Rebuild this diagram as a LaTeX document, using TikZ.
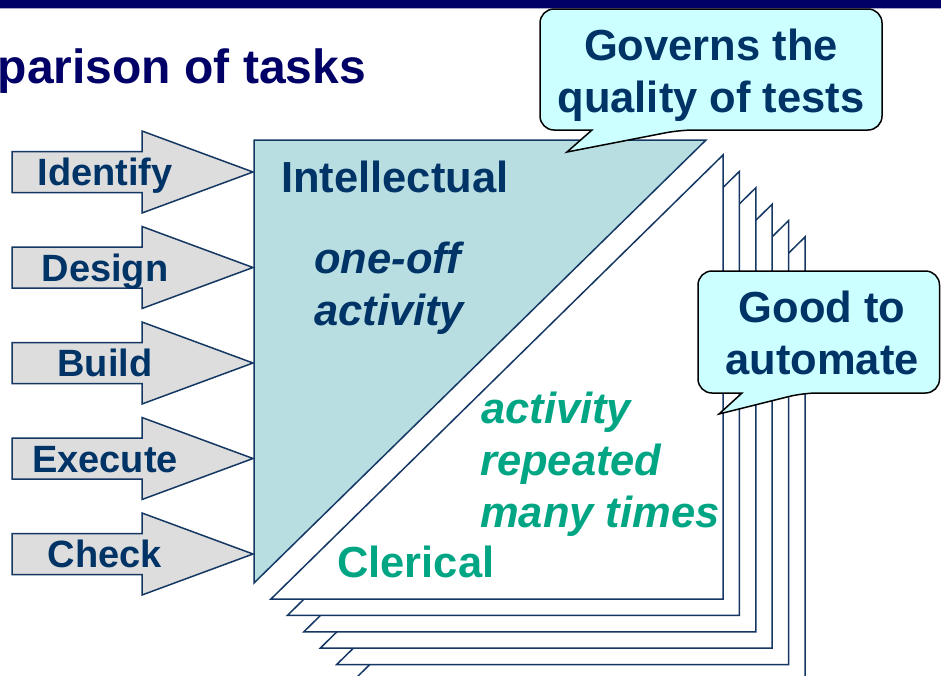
\documentclass[tikz,border=0pt]{standalone}
\usepackage{fontspec}
\setmainfont{Liberation Sans}
\definecolor{navy}{RGB}{0,0,102}
\definecolor{tblue}{RGB}{0,51,102}
\definecolor{tgreen}{RGB}{0,166,132}
\definecolor{trifill}{RGB}{185,222,225}
\definecolor{edgec}{RGB}{20,55,100}
\definecolor{arrfill}{RGB}{221,221,221}
\definecolor{callfill}{RGB}{204,255,255}
\begin{document}
\begin{tikzpicture}[x=1pt,y=-1pt,line join=miter,
  shapeline/.style={draw=edgec,line width=1.5pt},
  arrowshape/.style={shapeline,fill=arrfill},
  arrlabel/.style={anchor=base,inner sep=0,text=tblue,font=\fontsize{38}{46}\selectfont\bfseries},
  bodytext/.style={anchor=base west,inner sep=0,font=\fontsize{43.5}{52}\selectfont\bfseries},
  itext/.style={bodytext,font=\fontsize{43.5}{52}\selectfont\bfseries\itshape},
  callshape/.style={draw=black,line width=1.5pt,fill=callfill,rounded corners=14pt},
  calltext/.style={anchor=base,inner sep=0,text=tblue,font=\fontsize{43.5}{52}\selectfont\bfseries}]
\useasboundingbox (0,0) rectangle (941,675);
% top bar
\fill[navy] (0,0) rectangle (941,7.5);
\fill[navy!35] (0,7.5) rectangle (941,9);
% title
\node[anchor=base east,inner sep=0,text=navy,font=\fontsize{48}{58}\selectfont\bfseries] (title) at (366,83) {parison of tasks};
% stack of white triangles
\foreach \i in {5,4,3,2,1,0} {
  \pgfmathsetmacro\d{16.4*\i}
  \filldraw[shapeline,fill=white] (271+\d,599+\d) -- (723+\d,599+\d) -- (723+\d,155+\d) -- cycle;
}
% main triangle
\filldraw[shapeline,fill=trifill] (254,140) -- (706,140) -- (254,583) -- cycle;
% arrows
\foreach \t [count=\k from 0] in {Identify,Design,Build,Execute,Check} {
  \pgfmathsetmacro\yy{172+95.5*\k}
  \filldraw[arrowshape] (12,\yy-20.5) -- (142,\yy-20.5) -- (142,\yy-41) -- (253,\yy) -- (142,\yy+41) -- (142,\yy+20.5) -- (12,\yy+20.5) -- cycle;
  \node[arrlabel] (a\k) at (105,\yy+13.6) {\t};
}
% texts
\node[bodytext,text=tblue] (intel) at (281,192) {Intellectual};
\node[itext,text=tblue] (one1) at (314,273) {one-off};
\node[itext,text=tblue] (one2) at (314,325) {activity};
\node[itext,text=tgreen] (rep1) at (481,423) {activity};
\node[itext,text=tgreen] (rep2) at (480,475) {repeated};
\node[itext,text=tgreen] (rep3) at (480,527) {many times};
\node[bodytext,text=tgreen] (cler) at (337,577) {Clerical};
% callout 1
\draw[callshape] (711,9) -- (882,9) -- (882,130) -- (680,130) [sharp corners] -- (567,152) -- (592,130) [rounded corners=14pt] -- (540,130) -- (540,9) -- cycle;
\node[calltext] (g1) at (711,60) {Governs the};
\node[calltext] (g2) at (711,112) {quality of tests};
% callout 2
\draw[callshape] (820,271) -- (939.5,271) -- (939.5,393) -- (803,393) [sharp corners] -- (719,414) -- (742,393) [rounded corners=14pt] -- (698,393) -- (698,271) -- cycle;
\node[calltext] (h1) at (822,322) {Good to};
\node[calltext] (h2) at (822,374) {automate};
\end{tikzpicture}
\end{document}
